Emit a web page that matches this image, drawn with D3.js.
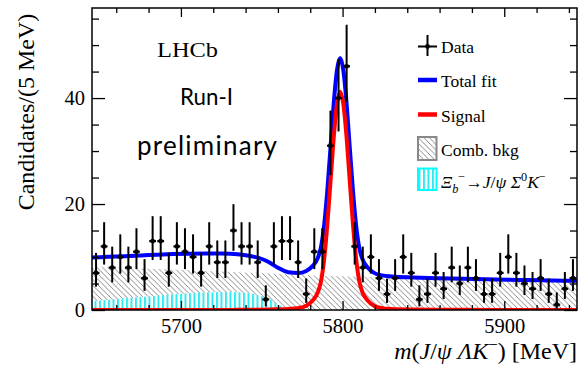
<!DOCTYPE html>
<html>
<head>
<meta charset="utf-8">
<script src="https://cdn.jsdelivr.net/npm/d3@7"></script>
<style>
  html, body { margin: 0; padding: 0; background: #fff; }
  svg { display: block; }
</style>
</head>
<body>
<div id="chart"></div>
<script>
// bin centres (MeV), 5 MeV bins
const binCentres = [
  5647.5, 5652.5, 5657.5, 5662.5, 5667.5, 5672.5, 5677.5, 5682.5, 5687.5, 5692.5,
  5697.5, 5702.5, 5707.5, 5712.5, 5717.5, 5722.5, 5727.5, 5732.5, 5737.5, 5742.5,
  5747.5, 5752.5, 5757.5, 5762.5, 5767.5, 5772.5, 5777.5, 5782.5, 5787.5, 5792.5,
  5797.5, 5802.5, 5807.5, 5812.5, 5817.5, 5822.5, 5827.5, 5832.5, 5837.5, 5842.5,
  5847.5, 5852.5, 5857.5, 5862.5, 5867.5, 5872.5, 5877.5, 5882.5, 5887.5, 5892.5,
  5897.5, 5902.5, 5907.5, 5912.5, 5917.5, 5922.5, 5927.5, 5932.5, 5937.5, 5942.5
];

// candidates per bin
const counts = [
  7, 12, 8, 10, 8, 11, 6, 13, 13, 7,
  12, 11, 10, 7, 12, 9, 9, 15, 12, 12,
  9, 2, 12, 13, 13, 9, 3, 11, 11, 31,
  40, 46, 12, 8, 10, 6, 3, 6, 10, 7,
  2, 3, 7, 4, 8, 5, 8, 6, 3, 3,
  7, 10, 7, 5, 4, 6, 3, 1, 4, 6
];

// fit curves, sampled off the plot
const fitMass = [
  5645, 5655, 5665, 5675, 5685, 5695, 5705, 5715, 5725, 5735,
  5742, 5748, 5754, 5760, 5766.5, 5772.5, 5777.5, 5781.5, 5784.5, 5786.5,
  5788.5, 5790.5, 5792.5, 5794.5, 5796.5, 5798.5, 5800.5, 5802.5, 5804.5, 5806.5,
  5808.5, 5810.5, 5812.5, 5815.5, 5819.5, 5824.5, 5830.5, 5843.5, 5858.5, 5875,
  5895, 5915, 5930, 5945
];
const combBkg = [
  8.20, 8.08, 7.96, 7.84, 7.73, 7.61, 7.49, 7.37, 7.25, 7.13,
  7.05, 6.97, 6.89, 6.81, 6.72, 6.63, 6.57, 6.53, 6.50, 6.48,
  6.46, 6.44, 6.42, 6.40, 6.38, 6.36, 6.35, 6.33, 6.32, 6.30,
  6.29, 6.28, 6.26, 6.24, 6.21, 6.18, 6.14, 6.05, 5.95, 5.86,
  5.75, 5.64, 5.57, 5.50
];
const xibBkg = [
  1.70, 1.95, 2.20, 2.45, 2.70, 2.95, 3.15, 3.30, 3.40, 3.35,
  3.15, 2.80, 2.15, 1.05, 0.20, 0, 0, 0, 0, 0,
  0, 0, 0, 0, 0, 0, 0, 0, 0, 0,
  0, 0, 0, 0, 0, 0, 0, 0, 0, 0,
  0, 0, 0, 0
];
const signalFit = [
  0, 0, 0, 0, 0, 0, 0, 0, 0, 0.03,
  0.05, 0.06, 0.08, 0.12, 0.2, 0.35, 0.8, 1.8, 3.2, 5.2,
  9.3, 15.9, 24.1, 32.5, 38.8, 41.2, 38.8, 32.5, 24.1, 15.9,
  9.3, 5.2, 3.2, 1.8, 0.8, 0.35, 0.2, 0.1, 0.05, 0.03,
  0.02, 0.01, 0, 0
];
const totalFit = [
  9.90, 10.03, 10.16, 10.29, 10.43, 10.56, 10.64, 10.67, 10.65, 10.51,
  10.25, 9.83, 9.12, 7.98, 7.12, 6.98, 7.37, 8.33, 9.70, 11.68,
  15.76, 22.34, 30.52, 38.90, 45.18, 47.56, 45.15, 38.83, 30.42, 22.20,
  15.59, 11.48, 9.46, 8.04, 7.01, 6.53, 6.34, 6.15, 6.00, 5.89,
  5.77, 5.65, 5.57, 5.50
];

const xMajorTicks = [5700, 5800, 5900];
const xMinorTicks = [5660, 5680, 5720, 5740, 5760, 5780, 5820, 5840, 5860, 5880, 5920, 5940];
const yMajorTicks = [0, 20, 40];
const yMinorTicks = [5, 10, 15, 25, 30, 35, 45, 50, 55];

// Settings
const width = 578;
const height = 367;
const plot = { left: 92, right: 577, top: 8, bottom: 310 };
const serif = "'Liberation Serif', 'Times New Roman', serif";
const sans = "Lato, 'Open Sans', sans-serif";

const svg = d3.select("#chart")
  .append("svg")
  .attr("width", width)
  .attr("height", height);

const x = d3.scaleLinear().domain([5645, 5945]).range([plot.left, plot.right]);
const y = d3.scaleLinear().domain([0, 57]).range([plot.bottom, plot.top]);

const defs = svg.append("defs");
defs.append("clipPath").attr("id", "plotclip")
  .append("rect")
  .attr("x", plot.left).attr("y", plot.top - 2)
  .attr("width", plot.right - plot.left).attr("height", plot.bottom - plot.top + 2);

// diagonal hatch for combinatorial bkg
const hatch = defs.append("pattern")
  .attr("id", "hatch").attr("patternUnits", "userSpaceOnUse")
  .attr("width", 5.5).attr("height", 5.5);
hatch.append("path")
  .attr("d", "M0,0 L5.5,5.5 M-1,4.5 L1,6.5 M4.5,-1 L6.5,1")
  .attr("stroke", "#555").attr("stroke-width", 0.7);

// vertical cyan stripes for Xi_b component
const stripes = defs.append("pattern")
  .attr("id", "stripes").attr("patternUnits", "userSpaceOnUse")
  .attr("width", 4.5).attr("height", 5);
stripes.append("rect").attr("width", 4.5).attr("height", 5).attr("fill", "#fff");
stripes.append("rect").attr("x", 0).attr("width", 2).attr("height", 5).attr("fill", "#33e8ee");

const fitData = fitMass.map((m, i) => ({
  m: m, comb: combBkg[i], xib: xibBkg[i], sig: signalFit[i], tot: totalFit[i]
}));

const plotArea = svg.append("g").attr("clip-path", "url(#plotclip)");

// Comb. bkg
plotArea.append("path")
  .datum(fitData)
  .attr("fill", "url(#hatch)")
  .attr("d", d3.area().curve(d3.curveMonotoneX)
    .x((d) => x(d.m)).y0(y(0)).y1((d) => y(d.comb)));

// Xi_b -> J/psi Sigma0 K-
plotArea.append("path")
  .datum(fitData.filter((d) => d.m <= 5775))
  .attr("fill", "url(#stripes)")
  .attr("d", d3.area().curve(d3.curveMonotoneX)
    .x((d) => x(d.m)).y0(y(0)).y1((d) => y(d.xib)));

// frame
svg.append("rect")
  .attr("x", plot.left).attr("y", plot.top)
  .attr("width", plot.right - plot.left).attr("height", plot.bottom - plot.top)
  .attr("fill", "none").attr("stroke", "#000").attr("stroke-width", 1.5);

// total fit
plotArea.append("path")
  .datum(fitData)
  .attr("fill", "none").attr("stroke", "#0000ff").attr("stroke-width", 4)
  .attr("d", d3.line().curve(d3.curveMonotoneX).x((d) => x(d.m)).y((d) => y(d.tot)));

// signal
plotArea.append("path")
  .datum(fitData)
  .attr("fill", "none").attr("stroke", "#ff0000").attr("stroke-width", 4)
  .attr("d", d3.line().curve(d3.curveMonotoneX).x((d) => x(d.m)).y((d) => y(d.sig)));

// Axes
const noDomain = (g) => g.select(".domain").remove();
const styleAxis = (g) => {
  g.selectAll("line").attr("stroke", "#000").attr("stroke-width", 1.3);
  g.selectAll("text").attr("fill", "#000");
  g.attr("font-family", serif).attr("font-size", 20.5);
};

svg.append("g")
  .attr("transform", "translate(0," + plot.bottom + ")")
  .call(d3.axisBottom(x).tickValues(xMajorTicks).tickSize(-9).tickPadding(8).tickFormat(d3.format("d")))
  .call(noDomain).call(styleAxis);
svg.append("g")
  .attr("transform", "translate(0," + plot.bottom + ")")
  .call(d3.axisBottom(x).tickValues(xMinorTicks).tickSize(-5).tickFormat(""))
  .call(noDomain).call(styleAxis);
svg.append("g")
  .attr("transform", "translate(0," + plot.top + ")")
  .call(d3.axisTop(x).tickValues(xMajorTicks).tickSize(-9).tickFormat(""))
  .call(noDomain).call(styleAxis);
svg.append("g")
  .attr("transform", "translate(0," + plot.top + ")")
  .call(d3.axisTop(x).tickValues(xMinorTicks).tickSize(-5).tickFormat(""))
  .call(noDomain).call(styleAxis);

svg.append("g")
  .attr("transform", "translate(" + plot.left + ",0)")
  .call(d3.axisLeft(y).tickValues(yMajorTicks).tickSize(-13).tickPadding(7).tickFormat(d3.format("d")))
  .call(noDomain).call(styleAxis);
svg.append("g")
  .attr("transform", "translate(" + plot.left + ",0)")
  .call(d3.axisLeft(y).tickValues(yMinorTicks).tickSize(-7).tickFormat(""))
  .call(noDomain).call(styleAxis);
svg.append("g")
  .attr("transform", "translate(" + plot.right + ",0)")
  .call(d3.axisRight(y).tickValues(yMajorTicks).tickSize(-13).tickFormat(""))
  .call(noDomain).call(styleAxis);
svg.append("g")
  .attr("transform", "translate(" + plot.right + ",0)")
  .call(d3.axisRight(y).tickValues(yMinorTicks).tickSize(-7).tickFormat(""))
  .call(noDomain).call(styleAxis);

// Data points with Poisson errors
const points = binCentres.map((m, i) => {
  const n = counts[i];
  return {
    m: m, n: n,
    hi: n + Math.sqrt(n + 0.75) + 1,
    lo: Math.max(0, n - Math.sqrt(Math.max(n - 0.25, 0)))
  };
});

const dataG = svg.append("g").attr("clip-path", "url(#plotclip)");
const pt = dataG.selectAll("g.pt").data(points).enter().append("g").attr("class", "pt");
pt.append("line")
  .attr("x1", (d) => x(d.m)).attr("x2", (d) => x(d.m))
  .attr("y1", (d) => y(d.lo)).attr("y2", (d) => y(d.hi))
  .attr("stroke", "#000").attr("stroke-width", 2);
pt.append("line")
  .attr("x1", (d) => x(d.m - 2.1)).attr("x2", (d) => x(d.m + 2.1))
  .attr("y1", (d) => y(d.n)).attr("y2", (d) => y(d.n))
  .attr("stroke", "#000").attr("stroke-width", 2.2);
pt.append("circle")
  .attr("cx", (d) => x(d.m)).attr("cy", (d) => y(d.n))
  .attr("r", 2.4).attr("fill", "#000");

// rich text helper: parts = [text, italic?, shift, dx]
const richText = (sel, parts, size) => {
  let shift = 0;
  parts.forEach((p) => {
    const ts = sel.append("tspan").text(p[0]);
    if (p[1]) ts.attr("font-style", "italic");
    const s = p[2] || 0;
    if (s !== shift) ts.attr("dy", s - shift);
    if (s !== 0) ts.attr("font-size", size * 0.7);
    if (p[3]) ts.attr("dx", p[3]);
    shift = s;
  });
};

// axis titles
svg.append("text")
  .attr("transform", "translate(34,112) rotate(-90)")
  .attr("text-anchor", "middle")
  .attr("font-family", serif).attr("font-size", 24)
  .text("Candidates/(5 MeV)");

const xTitle = svg.append("text")
  .attr("x", 577).attr("y", 359)
  .attr("text-anchor", "end")
  .attr("font-family", serif).attr("font-size", 24);
richText(xTitle, [["m", true], ["(", false], ["J", true], ["/", false], ["ψ", true], [" ", false],
  ["Λ", true], ["K", true], ["−", false, -9], [")", false, 0], [" [MeV]", false]], 24);

// labels
svg.append("text")
  .attr("x", 157).attr("y", 56.5)
  .attr("font-family", serif).attr("font-size", 22)
  .attr("textLength", 61).attr("lengthAdjust", "spacingAndGlyphs")
  .text("LHCb");
svg.append("text")
  .attr("x", 180).attr("y", 105)
  .attr("font-family", sans).attr("font-size", 23)
  .attr("textLength", 53).attr("lengthAdjust", "spacingAndGlyphs")
  .text("Run-I");
svg.append("text")
  .attr("x", 137).attr("y", 155)
  .attr("font-family", sans).attr("font-size", 26)
  .attr("textLength", 140).attr("lengthAdjust", "spacing")
  .text("preliminary");

// Legend
const legend = svg.append("g").attr("id", "legend")
  .attr("font-family", serif).attr("font-size", 17.5);
const lx0 = 418, lx1 = 437, tx = 441;

legend.append("line").attr("x1", lx0).attr("x2", lx1).attr("y1", 46.5).attr("y2", 46.5)
  .attr("stroke", "#000").attr("stroke-width", 2);
legend.append("line").attr("x1", 427.5).attr("x2", 427.5).attr("y1", 35).attr("y2", 56)
  .attr("stroke", "#000").attr("stroke-width", 2);
legend.append("circle").attr("cx", 427.5).attr("cy", 46.5).attr("r", 2.4).attr("fill", "#000");
legend.append("text").attr("x", tx).attr("y", 53).text("Data");

legend.append("line").attr("x1", lx0).attr("x2", lx1).attr("y1", 80).attr("y2", 80)
  .attr("stroke", "#0000ff").attr("stroke-width", 4.5);
legend.append("text").attr("x", tx).attr("y", 87).text("Total fit");

legend.append("line").attr("x1", lx0).attr("x2", lx1).attr("y1", 114.5).attr("y2", 114.5)
  .attr("stroke", "#ff0000").attr("stroke-width", 4.5);
legend.append("text").attr("x", tx).attr("y", 121.5).text("Signal");

legend.append("rect").attr("x", lx0).attr("y", 137).attr("width", 18.5).attr("height", 23)
  .attr("fill", "url(#hatch)").attr("stroke", "#888").attr("stroke-width", 2);
legend.append("text").attr("x", tx).attr("y", 156).text("Comb. bkg");

legend.append("rect").attr("x", lx0).attr("y", 168.5).attr("width", 18.5).attr("height", 21.5)
  .attr("fill", "url(#stripes)").attr("stroke", "#00ffff").attr("stroke-width", 2);
const xiText = legend.append("text").attr("x", tx).attr("y", 188);
richText(xiText, [["Ξ", true], ["b", true, 5], ["−", false, -7], ["→", false, 0], ["J", true], ["/", false],
  ["ψ", true], [" ", false], ["Σ", true], ["0", false, -7], ["K", true, 0], ["−", false, -7]], 17.5);
</script>
</body>
</html>
